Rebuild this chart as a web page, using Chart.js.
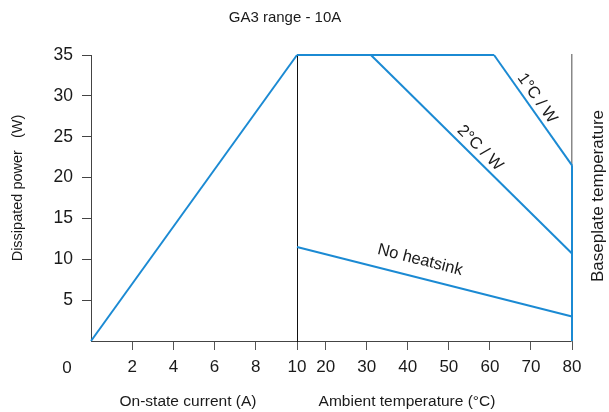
<!DOCTYPE html>
<html><head><meta charset="utf-8">
<script src="https://cdn.jsdelivr.net/npm/chart.js@4/dist/chart.umd.min.js"></script>
<style>
html,body{margin:0;padding:0;background:#fff}
#wrap{position:relative;width:609px;height:412px}
canvas{position:absolute;left:0;top:0}
</style></head><body>
<div id="wrap"><canvas id="left" width="609" height="412"></canvas><canvas id="right" width="609" height="412"></canvas></div>
<script>
// ---- data ----
const currentA = [0, 10];
const powerVsCurrent = [0, 35];
const currentTicks = [2, 4, 6, 8, 10];
const ambientTicks = [20, 30, 40, 50, 60, 70, 80];
const powerTicks = [5, 10, 15, 20, 25, 30, 35];
const ambientMin = 13, ambientMax = 80;
const limitT = [13, 61];      const limitP = [35, 35];
const oneCW_T = [61, 80];     const oneCW_P = [35, 21.5];
const twoCW_T = [31, 80];     const twoCW_P = [35, 10.7];
const noHS_T = [13, 80];      const noHS_P = [11.5, 3.0];
const edgeT = [80, 80];       const edgeP = [21.5, 0];
const curveNames = ['1°C / W', '2°C / W', 'No heatsink'];
const curveLabelT = [71.5, 57.6, 43.0];
const curveLabelP = [29.7, 23.6, 9.9];
const curveSeries = [[oneCW_T, oneCW_P], [twoCW_T, twoCW_P], [noHS_T, noHS_P]];

const pts = (xs, ys) => xs.map((x, i) => ({x, y: ys[i]}));
const FONT = "'Liberation Sans', Arial, sans-serif";
const BLUE = '#1b8ad3';
const TXT = '#1a1a1a';

function lineDs(data) {
  return {data, borderColor: BLUE, borderWidth: 2, pointRadius: 0, tension: 0, fill: false, clip: false};
}

const common = {
  responsive: false, animation: false,
  plugins: {legend: {display: false}, tooltip: {enabled: false}, title: {display: false}}
};

function xScale(min, max, ticks, borderColor) {
  return {
    type: 'linear', min, max,
    afterBuildTicks: s => { s.ticks = ticks.map(v => ({value: v})); },
    afterFit: s => { s.height = 71; },
    grid: {drawOnChartArea: false, tickLength: 9, color: '#555', lineWidth: 1},
    border: {display: true, color: borderColor, width: 1},
    ticks: {font: {family: FONT, size: 17}, color: TXT, padding: 7, maxRotation: 0, autoSkip: false}
  };
}

new Chart(document.getElementById('left'), {
  type: 'line',
  data: {datasets: [lineDs(pts(currentA, powerVsCurrent))]},
  options: {
    ...common,
    layout: {padding: {left: 0, right: 312, top: 55, bottom: 0}},
    scales: {
      x: xScale(0, 10, currentTicks, '#444'),
      y: {
        type: 'linear', min: 0, max: 35,
        afterBuildTicks: s => { s.ticks = powerTicks.map(v => ({value: v})); },
        afterFit: s => { s.width = 91; },
        grid: {drawOnChartArea: false, tickLength: 9, color: '#444'},
        border: {display: true, color: '#444', width: 1},
        ticks: {font: {family: FONT, size: 17.5}, color: TXT, padding: 9}
      }
    }
  }
});

const textPlugin = {
  id: 'freeText',
  afterDraw(chart) {
    const ctx = chart.ctx;
    const xs = chart.scales.x, ys = chart.scales.y;
    ctx.save();
    ctx.fillStyle = TXT;
    ctx.textAlign = 'center';
    ctx.textBaseline = 'middle';
    ctx.font = `15px ${FONT}`;
    ctx.fillText('GA3 range - 10A', 285, 18);
    ctx.font = `17px ${FONT}`;
    ctx.fillText('0', 67, 368);
    ctx.font = `15.5px ${FONT}`;
    ctx.fillText('On-state current (A)', 188, 402);
    ctx.fillText('Ambient temperature (°C)', 407, 402);
    ctx.save();
    ctx.translate(18, 188);
    ctx.rotate(-Math.PI / 2);
    ctx.font = `14.5px ${FONT}`;
    ctx.fillText('Dissipated power   (W)', 0, 0);
    ctx.restore();
    ctx.save();
    ctx.translate(598, 196);
    ctx.rotate(-Math.PI / 2);
    ctx.font = `17px ${FONT}`;
    ctx.fillText('Baseplate temperature', 0, 0);
    ctx.restore();
    // curve labels, rotated along their curves
    ctx.font = `16.5px ${FONT}`;
    curveNames.forEach((name, i) => {
      const [T, P] = curveSeries[i];
      const dx = xs.getPixelForValue(T[1]) - xs.getPixelForValue(T[0]);
      const dy = ys.getPixelForValue(P[1]) - ys.getPixelForValue(P[0]);
      ctx.save();
      ctx.translate(xs.getPixelForValue(curveLabelT[i]), ys.getPixelForValue(curveLabelP[i]));
      ctx.rotate(Math.atan2(dy, dx));
      ctx.fillText(name, 0, 0);
      ctx.restore();
    });
    ctx.restore();
  }
};

new Chart(document.getElementById('right'), {
  type: 'line',
  data: {datasets: [
    lineDs(pts(limitT, limitP)),
    lineDs(pts(oneCW_T, oneCW_P)),
    lineDs(pts(twoCW_T, twoCW_P)),
    lineDs(pts(noHS_T, noHS_P)),
    lineDs(pts(edgeT, edgeP))
  ]},
  options: {
    ...common,
    layout: {padding: {left: 297, right: 37, top: 55, bottom: 0}},
    scales: {
      x: xScale(ambientMin, ambientMax, ambientTicks, '#444'),
      y: {
        type: 'linear', position: 'left', min: 0, max: 35,
        afterFit: s => { s.width = 0; },
        grid: {display: true, drawOnChartArea: false, drawTicks: false},
        border: {display: true, color: '#111', width: 1},
        ticks: {display: false}
      },
      y2: {
        type: 'linear', position: 'right', min: 0, max: 35,
        afterFit: s => { s.width = 0; },
        grid: {display: true, drawOnChartArea: false, drawTicks: false},
        border: {display: true, color: '#888', width: 1.5},
        ticks: {display: false}
      }
    }
  },
  plugins: [textPlugin]
});
</script>
</body></html>
